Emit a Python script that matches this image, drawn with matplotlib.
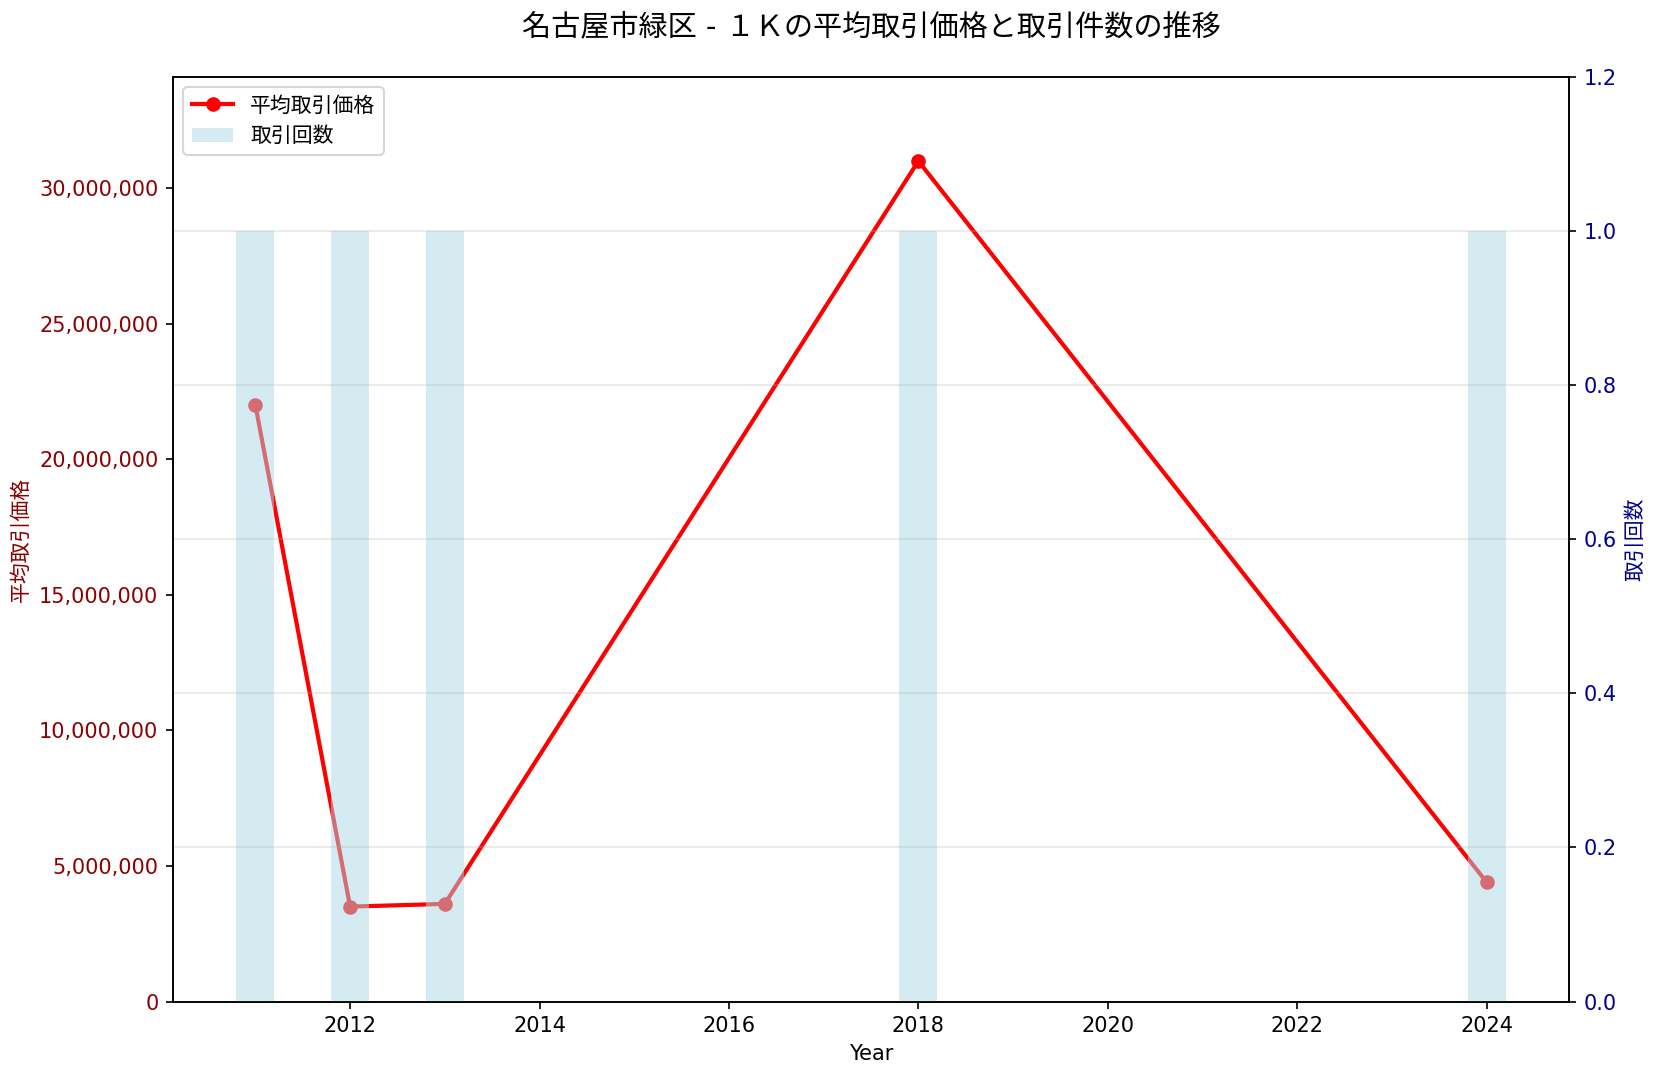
import matplotlib
matplotlib.use("Agg")
import matplotlib.pyplot as plt
from matplotlib.ticker import FuncFormatter

plt.rcParams['font.family'] = ['DejaVu Sans', 'Noto Sans CJK JP']
plt.rcParams['font.size'] = 10

years = [2011, 2012, 2013, 2018, 2024]
avg_price = [22000000, 3500000, 3600000, 31000000, 4400000]
counts = [1, 1, 1, 1, 1]

title = "名古屋市緑区 - １Ｋの平均取引価格と取引件数の推移"

fig = plt.figure(figsize=(1658 / 150, 1080 / 150), dpi=150)
ax1 = fig.add_subplot(111)
fig.subplots_adjust(left=173 / 1658, right=1569 / 1658, top=1 - 77 / 1080, bottom=1 - 1001.5 / 1080)

line, = ax1.plot(years, avg_price, color='red', marker='o', linewidth=2, label='平均取引価格')
ax1.set_xlabel('Year')
ax1.set_ylabel('平均取引価格', color='darkred')
ax1.tick_params(axis='y', labelcolor='darkred')
ax1.yaxis.set_major_formatter(FuncFormatter(lambda v, p: f"{int(v):,}"))
ax1.set_ylim(0, max(avg_price) * 1.1)

ax2 = ax1.twinx()
bars = ax2.bar(years, counts, width=0.4, color='lightblue', alpha=0.5, label='取引回数')
ax2.set_ylabel('取引回数', color='darkblue')
ax2.tick_params(axis='y', labelcolor='darkblue')
ax2.set_ylim(0, max(counts) * 1.2)
ax2.grid(True, alpha=0.3)

ax2.legend([line, bars], ['平均取引価格', '取引回数'], loc='upper left')
ax1.set_title(title, fontsize=14, pad=20)

fig.savefig('out.png', dpi=150)
